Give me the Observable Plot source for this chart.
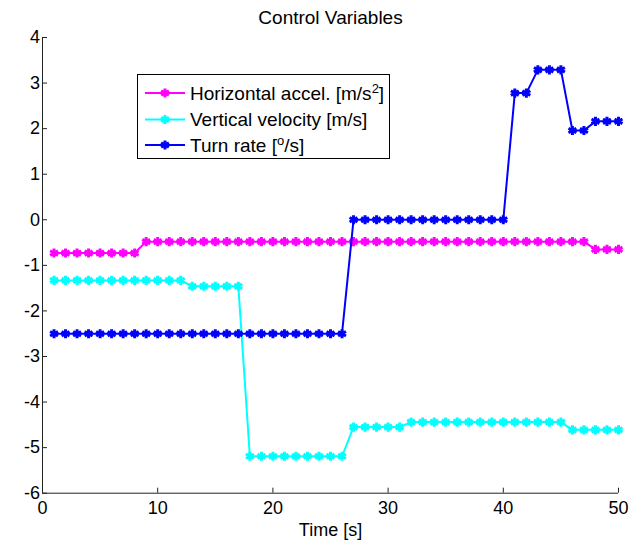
<!DOCTYPE html>
<html><head><meta charset="utf-8">
<script src="https://cdn.jsdelivr.net/npm/d3@7"></script>
<script src="https://cdn.jsdelivr.net/npm/@observablehq/plot@0.6"></script>
<style>
body{margin:0;background:#fff}
#chart{position:relative;width:633px;height:543px;font-family:"Liberation Sans",Arial,sans-serif}
#legend{position:absolute;left:137px;top:74px}
</style>
</head><body><div id="chart"></div>
<script>
const time = [1,2,3,4,5,6,7,8,9,10,11,12,13,14,15,16,17,18,19,20,21,22,23,24,25,26,27,28,29,30,31,32,33,34,35,36,37,38,39,40,41,42,43,44,45,46,47,48,49,50];
const horizontalAccel = [-0.73,-0.73,-0.73,-0.73,-0.73,-0.73,-0.73,-0.73,
  -0.48,-0.48,-0.48,-0.48,-0.48,-0.48,-0.48,-0.48,-0.48,-0.48,-0.48,-0.48,-0.48,-0.48,-0.48,-0.48,-0.48,-0.48,-0.48,-0.48,-0.48,-0.48,-0.48,-0.48,-0.48,-0.48,-0.48,-0.48,-0.48,-0.48,-0.48,-0.48,-0.48,-0.48,-0.48,-0.48,-0.48,-0.48,-0.48,
  -0.65,-0.65,-0.65];
const verticalVelocity = [-1.33,-1.33,-1.33,-1.33,-1.33,-1.33,-1.33,-1.33,-1.33,-1.33,-1.33,-1.33,
  -1.46,-1.46,-1.46,-1.46,-1.46,
  -5.19,-5.19,-5.19,-5.19,-5.19,-5.19,-5.19,-5.19,-5.19,
  -4.55,-4.55,-4.55,-4.55,-4.55,
  -4.44,-4.44,-4.44,-4.44,-4.44,-4.44,-4.44,-4.44,-4.44,-4.44,-4.44,-4.44,-4.44,-4.44,
  -4.61,-4.61,-4.61,-4.61,-4.61];
const turnRate = [-2.5,-2.5,-2.5,-2.5,-2.5,-2.5,-2.5,-2.5,-2.5,-2.5,-2.5,-2.5,-2.5,-2.5,-2.5,-2.5,-2.5,-2.5,-2.5,-2.5,-2.5,-2.5,-2.5,-2.5,-2.5,-2.5,
  0,0,0,0,0,0,0,0,0,0,0,0,0,0,
  2.78,2.78,3.29,3.29,3.29,1.96,1.96,2.16,2.16,2.16];
const seriesNames = ["Horizontal accel.", "Vertical velocity", "Turn rate"];
const seriesUnits = [["[m/s", "2", "]"], ["[m/s]", "", ""], ["[", "o", "/s]"]];
const seriesColors = ["#ff00ff", "#00ffff", "#0000ff"];
const xTicks = [0, 10, 20, 30, 40, 50];
const yTicks = [-6, -5, -4, -3, -2, -1, 0, 1, 2, 3, 4];
const titleText = "Control Variables";
const xLabelText = "Time [s]";

const FONT = '"Liberation Sans",Arial,sans-serif';
const seriesValues = [horizontalAccel, verticalVelocity, turnRate];
const series = seriesValues.map((vals, k) => time.map((t, i) => ({t, v: vals[i], k})));
const fmt = d => String(d);

const marks = [
  Plot.ruleX([xTicks[0]], {stroke: "#222", strokeWidth: 1}),
  Plot.ruleY([yTicks[0]], {stroke: "#222", strokeWidth: 1}),
  Plot.axisY(yTicks, {anchor: "left", tickSize: -5, tickPadding: 7.5, fontSize: 18, label: null, tickFormat: fmt, stroke: "#222", fill: "#000"}),
  Plot.axisX(xTicks, {anchor: "bottom", tickSize: -5, tickPadding: 13, fontSize: 18, label: null, tickFormat: fmt, stroke: "#222", fill: "#000"}),
  Plot.text([titleText], {frameAnchor: "top", lineAnchor: "bottom", dy: -13.7, fontSize: 19, fill: "#000"}),
  Plot.text([xLabelText], {frameAnchor: "bottom", lineAnchor: "bottom", dy: 43, fontSize: 18, fill: "#000"})
];
series.forEach((d, k) => {
  marks.push(Plot.line(d, {x: "t", y: "v", stroke: seriesColors[k], strokeWidth: 2}));
  marks.push(Plot.dot(d, {x: "t", y: "v", symbol: "asterisk", r: 4.3, stroke: seriesColors[k], strokeWidth: 3}));
});

const chart = Plot.plot({
  width: 633, height: 543,
  marginLeft: 42, marginRight: 15, marginTop: 37, marginBottom: 50.3,
  x: {domain: [0, 50]},
  y: {domain: [-6, 4]},
  style: {fontFamily: FONT, background: "#fff", color: "#000"},
  marks
});
const root = document.getElementById("chart");
root.appendChild(chart);

// legend
const lw = 253, lh = 85;
const leg = d3.select(root).append("svg").attr("id", "legend").attr("width", lw).attr("height", lh)
  .style("font-family", FONT);
leg.append("rect").attr("x", 0.5).attr("y", 0.5).attr("width", lw - 1).attr("height", lh - 1)
  .attr("fill", "#fff").attr("stroke", "#000");
const rowY = [19, 45.5, 71];
seriesNames.forEach((name, k) => {
  const g = leg.append("g").attr("transform", `translate(0,${rowY[k]})`);
  g.append("line").attr("x1", 8).attr("x2", 48).attr("stroke", seriesColors[k]).attr("stroke-width", 2);
  g.append("path").attr("transform", "translate(28,0)")
    .attr("d", d3.symbol(d3.symbolAsterisk, Math.PI * 18)())
    .attr("stroke", seriesColors[k]).attr("stroke-width", 3).attr("fill", "none");
  const t = g.append("text").attr("x", 53).attr("y", 6.8).attr("font-size", 19).attr("fill", "#000");
  t.append("tspan").text(name + " " + seriesUnits[k][0]);
  if (seriesUnits[k][1]) {
    t.append("tspan").attr("dy", -7).attr("font-size", 13).text(seriesUnits[k][1]);
    t.append("tspan").attr("dy", 7).text(seriesUnits[k][2]);
  }
});
</script>
</body></html>
